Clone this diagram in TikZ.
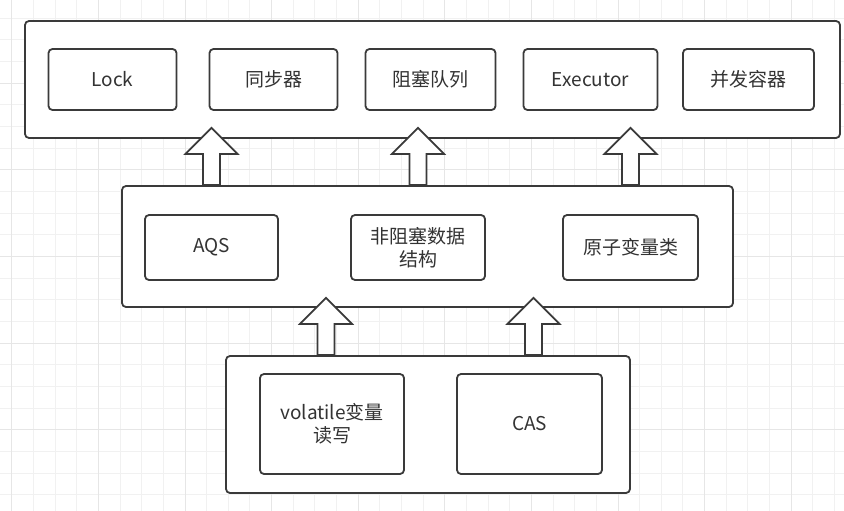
\documentclass[tikz,border=0pt]{standalone}
\usepackage{fontspec}
\setmainfont{Noto Sans CJK SC}
\usepackage{xcolor}
\usetikzlibrary{calc}
\definecolor{edge}{HTML}{3A3A3A}
\definecolor{ink}{HTML}{333333}
\definecolor{gridminor}{HTML}{F1F1F1}
\definecolor{gridmajor}{HTML}{E6E6E6}

\newcommand{\liftarrow}[2]{%
  \draw[hollow] let \p1=(#1), \p2=(#2) in
    (\x1-8.5pt,\y1) -- (\x1-8.5pt,\y2-26pt) -- (\x1-26pt,\y2-26pt) -- (\x1,\y2)
    -- (\x1+26pt,\y2-26pt) -- (\x1+8.5pt,\y2-26pt) -- (\x1+8.5pt,\y1) -- cycle;}

\begin{document}
\begin{tikzpicture}[x=1pt,y=-1pt,
    layer/.style={draw=edge, line width=1.8pt, rounded corners=4pt, fill=white},
    item/.style={draw=edge, line width=1.8pt, rounded corners=4pt, fill=white,
      text=ink, font=\fontsize{19}{23}\selectfont, align=center, inner sep=0pt},
    hollow/.style={draw=edge, line width=1.8pt, fill=white, line join=miter}]
				\useasboundingbox (0,0) rectangle (844,511);
				\fill[white] (0,0) rectangle (844,511);
				\foreach \i in {0,...,38} \draw[gridminor, line width=0.8pt] ({11.7+21.65*\i},0) -- ({11.7+21.65*\i},511);
				\foreach \j in {0,...,23} \draw[gridminor, line width=0.8pt] (0,{18.25+21.65*\j}) -- (844,{18.25+21.65*\j});
				\foreach \i in {0,...,9} \draw[gridmajor, line width=0.8pt] ({11.7+86.6*\i},0) -- ({11.7+86.6*\i},511);
				\foreach \j in {0,...,5} \draw[gridmajor, line width=0.8pt] (0,{83.2+86.6*\j}) -- (844,{83.2+86.6*\j});
				
				\node[layer, minimum width=815, minimum height=117] (toplayer) at (432.5,79.5) {};
				\node[item, minimum width=128, minimum height=61] (lock) at (112.5,79.5) {Lock};
				\node[item, minimum width=128, minimum height=61] (sync) at (273.5,79.5) {同步器};
				\node[item, minimum width=130, minimum height=61] (queue) at (430.5,79.5) {阻塞队列};
				\node[item, minimum width=134, minimum height=61] (executor) at (590.5,79.5) {Executor};
				\node[item, minimum width=131, minimum height=61] (container) at (748.5,79.5) {并发容器};
				
				\node[layer, minimum width=611, minimum height=121] (midlayer) at (427.5,246.5) {};
				\node[item, minimum width=133, minimum height=65] (aqs) at (211.5,247.5) {AQS};
				\node[item, minimum width=134, minimum height=65] (nbds) at (418,247.5) {非阻塞数据\\结构};
				\node[item, minimum width=135, minimum height=65] (atomic) at (630.5,247.5) {原子变量类};
				
				\node[layer, minimum width=404, minimum height=137] (baselayer) at (428,424.5) {};
				\node[item, minimum width=144, minimum height=100] (volatile) at (332,424) {volatile变量\\读写};
				\node[item, minimum width=145, minimum height=100] (cas) at (529.5,424) {CAS};
				
				\liftarrow{aqs.north |- midlayer.north}{$(aqs.north |- toplayer.south)+(0,-11)$}
				\liftarrow{nbds.north |- midlayer.north}{$(nbds.north |- toplayer.south)+(0,-11)$}
				\liftarrow{atomic.north |- midlayer.north}{$(atomic.north |- toplayer.south)+(0,-11)$}
				\liftarrow{$(volatile.north |- baselayer.north)+(-6,0)$}{$(volatile.north |- midlayer.south)+(-6,-10)$}
				\liftarrow{$(cas.north |- baselayer.north)+(4,0)$}{$(cas.north |- midlayer.south)+(4,-10)$}
			\end{tikzpicture}
\end{document}
